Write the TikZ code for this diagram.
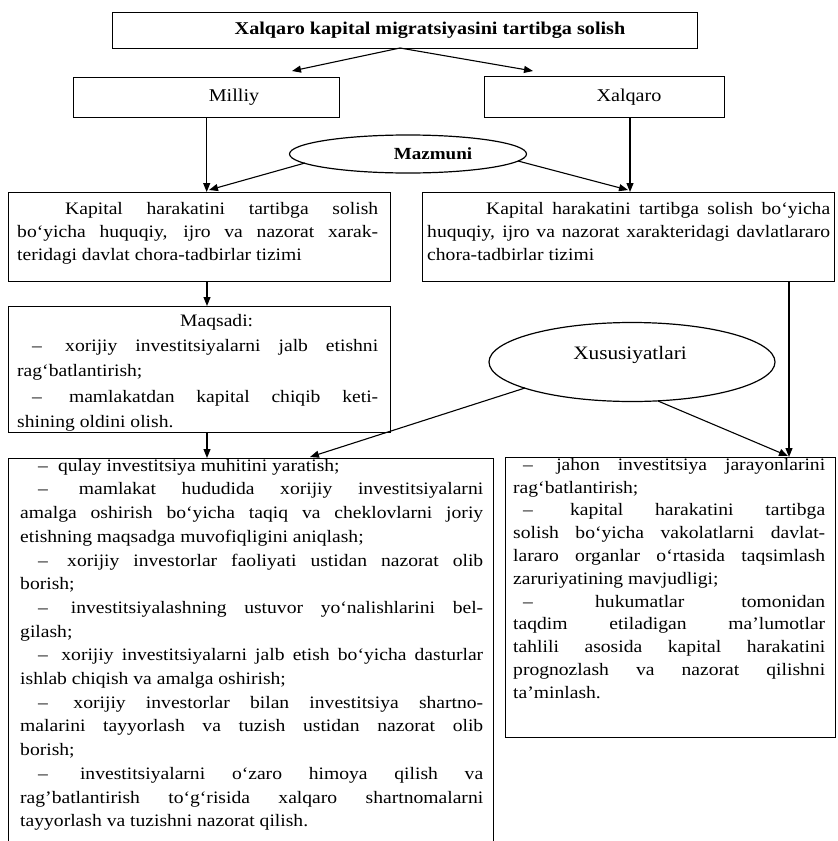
\documentclass[tikz,border=0pt]{standalone}
\usepackage{fontspec}
\setmainfont{Liberation Serif}[FakeStretch=1.12]
\usetikzlibrary{shapes.geometric,arrows.meta}
\newcommand{\firststrut}{\leavevmode\vrule width 0pt height 13pt depth 0pt\relax}
\newcommand{\itemdash}[1]{\hspace*{#1}–\hspace{.3em}\ }
\newcommand{\bodysetup}{\parindent=0pt \tolerance=10000 \hyphenpenalty=10000 \exhyphenpenalty=10000 \relax}
\begin{document}
\begin{tikzpicture}[x=1pt,y=-1pt,
  box/.style={draw, line width=1.4pt, rectangle, inner sep=0pt, anchor=north west},
  oval/.style={draw, line width=1.2pt, ellipse, inner sep=0pt},
  lbl/.style={inner sep=0pt, font=\fontsize{18}{20}\selectfont},
  body/.style n args={2}{anchor=north west, inner sep=0pt, align=justify, text width=#1,
     font={\fontsize{17.5}{#2}\selectfont\bodysetup}},
  arr/.style={line width=1.1pt, -{Triangle[length=9pt,width=7pt]}},
]
\useasboundingbox (0,0) rectangle (838,841);
\clip (0,0) rectangle (838,841);

% boxes and ellipses
\node[box, minimum width=585pt, minimum height=36pt] (title) at (112,12) {};
\node[lbl, font=\fontsize{18}{20}\selectfont\bfseries] (titletxt) at (430,30) {Xalqaro kapital migratsiyasini tartibga solish};

\node[box, minimum width=266pt, minimum height=40pt] (milliy) at (73,77) {};
\node[lbl] (milliytxt) at (234,97) {Milliy};

\node[box, minimum width=240pt, minimum height=41pt] (xalqaro) at (484,76) {};
\node[lbl] (xalqarotxt) at (629,97) {Xalqaro};

\node[oval, minimum width=237pt, minimum height=38pt] (mazmuni) at (408,154) {};
\node[lbl, font=\fontsize{17}{19}\selectfont\bfseries] (mazmunitxt) at (433,154) {Mazmuni};

\node[box, minimum width=382pt, minimum height=89pt] (kapL) at (8,192) {};
\node[body={361pt}{23pt}] (kapLtxt) at (17,201) {\firststrut\hspace*{48pt}Kapital harakatini tartibga solish\linebreak bo‘yicha huquqiy, ijro va nazorat xarak-\linebreak teridagi davlat chora-tadbirlar tizimi\par};

\node[box, minimum width=412pt, minimum height=89pt] (kapR) at (422,192) {};
\node[body={403pt}{23pt}] (kapRtxt) at (427,201) {\firststrut\hspace*{59pt}Kapital harakatini tartibga solish bo‘yicha\linebreak huquqiy, ijro va nazorat xarakteridagi davlatlararo\linebreak chora-tadbirlar tizimi\par};

\node[box, minimum width=382pt, minimum height=126pt] (maqsadi) at (8,306) {};
\node[body={361pt}{25.3pt}] (maqsaditxt) at (17,313) {\firststrut\hspace*{163pt}Maqsadi:\par
\itemdash{15pt}xorijiy investitsiyalarni jalb etishni\linebreak rag‘batlantirish;\par
\itemdash{15pt}mamlakatdan kapital chiqib keti-\linebreak shining oldini olish.\par};

\node[oval, minimum width=286pt, minimum height=79pt] (xusus) at (632,362) {};
\node[lbl, font=\fontsize{19}{21}\selectfont] (xusustxt) at (630,355) {Xususiyatlari};

\node[box, minimum width=485pt, minimum height=390pt] (bigL) at (8,458) {};
\node[body={463pt}{23.7pt}] (bigLtxt) at (20,458) {\firststrut\itemdash{18pt}qulay investitsiya muhitini yaratish;\par
\itemdash{18pt}mamlakat hududida xorijiy investitsiyalarni\linebreak amalga oshirish bo‘yicha taqiq va cheklovlarni joriy\linebreak etishning maqsadga muvofiqligini aniqlash;\par
\itemdash{18pt}xorijiy investorlar faoliyati ustidan nazorat olib\linebreak borish;\par
\itemdash{18pt}investitsiyalashning ustuvor yo‘nalishlarini bel-\linebreak gilash;\par
\itemdash{18pt}xorijiy investitsiyalarni jalb etish bo‘yicha dasturlar\linebreak ishlab chiqish va amalga oshirish;\par
\itemdash{18pt}xorijiy investorlar bilan investitsiya shartno-\linebreak malarini tayyorlash va tuzish ustidan nazorat olib\linebreak borish;\par
\itemdash{18pt}investitsiyalarni o‘zaro himoya qilish va\linebreak rag’batlantirish to‘g‘risida xalqaro shartnomalarni\linebreak tayyorlash va tuzishni nazorat qilish.\par};

\node[box, minimum width=330pt, minimum height=280pt] (bigR) at (505,457) {};
\node[body={312pt}{22.8pt}] (bigRtxt) at (513,457) {\firststrut\itemdash{10pt}jahon investitsiya jarayonlarini\linebreak rag‘batlantirish;\par
\itemdash{10pt}kapital harakatini tartibga\linebreak solish bo‘yicha vakolatlarni davlat-\linebreak lararo organlar o‘rtasida taqsimlash\linebreak zaruriyatining mavjudligi;\par
\itemdash{10pt}hukumatlar tomonidan\linebreak taqdim etiladigan ma’lumotlar\linebreak tahlili asosida kapital harakatini\linebreak prognozlash va nazorat qilishni\linebreak ta’minlash.\par};

% connector ends
\coordinate (tsplit) at (400,48);
\coordinate (milliyIn) at (292,71);
\coordinate (xalqaroIn) at (533,71);
\coordinate (xOut) at (630,117);
\coordinate (mzL) at (305,163);
\coordinate (mzLin) at (209,190);
\coordinate (mzR) at (518,161);
\coordinate (mzRin) at (628,190);
\coordinate (kLout) at (207,281);
\coordinate (mqOut) at (207,432);
\coordinate (xsL) at (525,388);
\coordinate (xsLin) at (310,457);
\coordinate (xsR) at (658,401);
\coordinate (xsRin) at (788,456);
\coordinate (kRout) at (789,281);

% connectors
\draw[arr] (tsplit) -- (milliyIn);
\draw[arr] (tsplit) -- (xalqaroIn);
\draw[arr] (milliy.south) -- (milliy.south |- kapL.north);
\draw[arr] (xOut) -- (xOut |- kapR.north);
\draw[arr] (mzL) -- (mzLin);
\draw[arr] (mzR) -- (mzRin);
\draw[arr] (kLout) -- (kLout |- maqsadi.north);
\draw[arr] (mqOut) -- (mqOut |- bigL.north);
\draw[arr] (xsL) -- (xsLin);
\draw[arr] (xsR) -- (xsRin);
\draw[arr] (kRout) -- (kRout |- bigR.north);
\end{tikzpicture}
\end{document}
